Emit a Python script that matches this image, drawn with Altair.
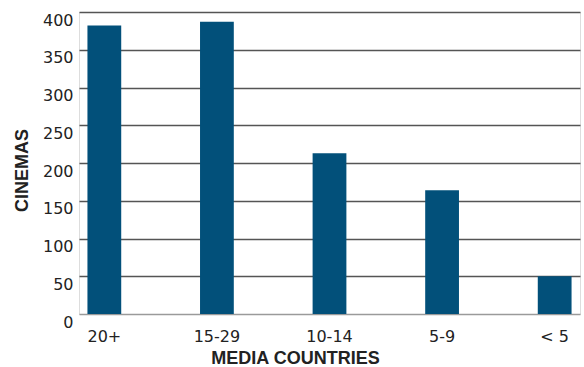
import altair as alt
import pandas as pd

categories = ["20+", "15-29", "10-14", "5-9", "< 5"]
cinemas = [382, 387, 213, 164, 50]
y_ticks = [0, 50, 100, 150, 200, 250, 300, 350, 400]

df = pd.DataFrame({"group": categories, "cinemas": cinemas})

chart = alt.Chart(df).mark_bar(color="#02507A").encode(
    x=alt.X(
        "group:N",
        sort=categories,
        scale=alt.Scale(paddingInner=0.7, paddingOuter=0.075),
        axis=alt.Axis(
            title="MEDIA COUNTRIES",
            labelAngle=0,
            ticks=False,
            domain=False,
            labelFont="DejaVu Sans",
            labelFontSize=16,
            labelColor="#222222",
            labelBaseline="alphabetic",
            labelPadding=27,
            titleFont="Liberation Sans",
            titleFontSize=18,
            titleFontWeight="bold",
            titleColor="#222222",
            titleX=216,
            titleY=49,
            titleAlign="center",
            titleBaseline="alphabetic",
        ),
    ),
    y=alt.Y(
        "cinemas:Q",
        scale=alt.Scale(domain=[0, 400], nice=False),
        axis=alt.Axis(
            title="CINEMAS",
            values=y_ticks,
            ticks=False,
            domain=False,
            grid=True,
            gridColor={"condition": {"test": "datum.value === 0", "value": "#9a9a9a"}, "value": "#555555"},
            gridWidth=1.3,
            labelFont="DejaVu Sans",
            labelFontSize=16,
            labelColor="#222222",
            labelAlign="right",
            labelBaseline="alphabetic",
            labelOffset=13,
            labelPadding=6,
            titleFont="Liberation Sans",
            titleFontSize=18,
            titleFontWeight="bold",
            titleColor="#222222",
            titleAngle=270,
            titleX=-52,
            titleY=158,
            titleAlign="center",
            titleBaseline="alphabetic",
        ),
    ),
).properties(
    width=501,
    height=302,
    autosize="none",
    padding={"left": 79, "top": 12, "right": 4, "bottom": 53},
).configure_view(stroke=None).configure(background="white")

chart.save("out.html", embed_options={"renderer": "svg", "actions": False})
